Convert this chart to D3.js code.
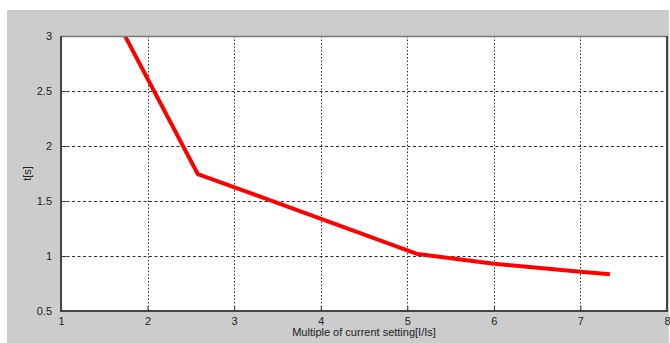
<!DOCTYPE html>
<html><head><meta charset="utf-8">
<script src="https://cdn.jsdelivr.net/npm/d3@7"></script>
<style>
html,body{margin:0;padding:0;background:#fff;}
svg{display:block;}
text{font-family:"Liberation Sans",Arial,sans-serif;}
</style></head>
<body>
<script>
const xValues = [1.74, 2.58, 5.12, 6.0, 7.0, 7.34];
const tValues = [3.0, 1.745, 1.018, 0.93, 0.856, 0.834];
const xTicks = [1, 2, 3, 4, 5, 6, 7, 8];
const yTicks = [0.5, 1, 1.5, 2, 2.5, 3];
const xLabel = "Multiple of current setting[I/Is]";
const yLabel = "t[s]";

const W = 670, H = 343;
const svg = d3.select("body").append("svg").attr("width", W).attr("height", H);
svg.append("rect").attr("x", 7).attr("y", 10).attr("width", 662).attr("height", H - 10).attr("fill", "#cccccc");

const L = 61, R = 667, T = 36, B = 311;
const x = d3.scaleLinear().domain([1, 8]).range([L, R]);
const y = d3.scaleLinear().domain([0.5, 3]).range([B, T]);

svg.append("rect").attr("x", L).attr("y", T).attr("width", R - L).attr("height", B - T).attr("fill", "#fff");

const g = svg.append("g");
// grid
g.selectAll(".vg").data(xTicks.slice(1, -1)).join("line")
  .attr("x1", d => Math.round(x(d)) + 0.5).attr("x2", d => Math.round(x(d)) + 0.5)
  .attr("y1", T).attr("y2", B)
  .attr("stroke", "#333").attr("stroke-width", 1).attr("stroke-dasharray", "1.5,2");
g.selectAll(".hg").data(yTicks.slice(1, -1)).join("line")
  .attr("y1", d => Math.round(y(d)) + 0.5).attr("y2", d => Math.round(y(d)) + 0.5)
  .attr("x1", L).attr("x2", R)
  .attr("stroke", "#333").attr("stroke-width", 1).attr("stroke-dasharray", "3,2.5");

// clip for line
svg.append("clipPath").attr("id", "clip").append("rect")
  .attr("x", L).attr("y", T).attr("width", R - L).attr("height", B - T);

const line = d3.line().x((d, i) => x(xValues[i])).y(d => y(d));
svg.append("path").datum(tValues).attr("d", line)
  .attr("fill", "none").attr("stroke", "#ff0000").attr("stroke-width", 4)
  .attr("stroke-linejoin", "round").attr("clip-path", "url(#clip)");

// axes
const xAxis = d3.axisBottom(x).tickValues(xTicks).tickSizeInner(-5).tickSizeOuter(0).tickPadding(9).tickFormat(d3.format("d"));
const yAxis = d3.axisLeft(y).tickValues(yTicks).tickSizeInner(-5).tickSizeOuter(0).tickPadding(9).tickFormat(d => String(d));

const gx = svg.append("g").attr("transform", `translate(0,${B})`).call(xAxis);
const gy = svg.append("g").attr("transform", `translate(${L},0)`).call(yAxis);
[gx, gy].forEach(a => {
  a.select(".domain").remove();
  a.selectAll("line").attr("stroke", "#333");
  a.selectAll("text").attr("fill", "#222").style("font-size", "11px").style("font-family", "'Liberation Sans',Arial,sans-serif");
});
gx.selectAll("text").attr("dy", "0.45em");

// box
svg.append("line").attr("x1", L).attr("x2", R).attr("y1", T + 0.5).attr("y2", T + 0.5).attr("stroke", "#777").attr("stroke-width", 1.5);
svg.append("line").attr("x1", R).attr("x2", R).attr("y1", T).attr("y2", B + 1).attr("stroke", "#444").attr("stroke-width", 2);
svg.append("line").attr("x1", L).attr("x2", L).attr("y1", T).attr("y2", B + 1).attr("stroke", "#444").attr("stroke-width", 2);
svg.append("line").attr("x1", L).attr("x2", R + 1).attr("y1", B).attr("y2", B).attr("stroke", "#444").attr("stroke-width", 2);

svg.append("text").attr("x", (L + R) / 2).attr("y", 336).attr("text-anchor", "middle")
  .attr("fill", "#222").style("font-size", "11px").text(xLabel);
svg.append("text").attr("transform", `translate(31,${(T + B) / 2}) rotate(-90)`).attr("text-anchor", "middle")
  .attr("fill", "#222").style("font-size", "11px").text(yLabel);
</script>
</body></html>
